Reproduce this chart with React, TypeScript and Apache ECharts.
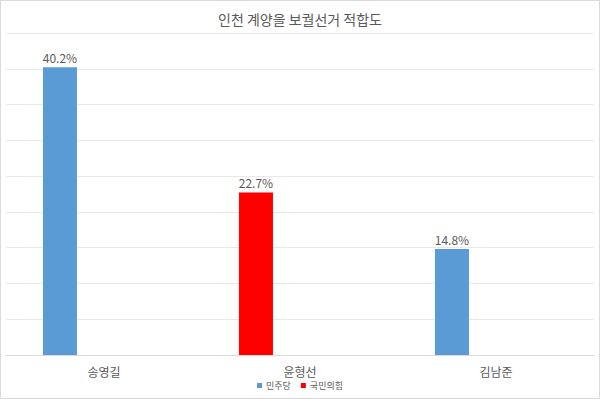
import React, { useEffect, useRef } from "react";
import * as echarts from "echarts";

const titleText = "인천 계양을 보궐선거 적합도";
const categories = ["송영길", "윤형선", "김남준"];
const seriesNames = ["민주당", "국민의힘"];
const democraticValues: (number | string)[] = [40.2, "-", 14.8];
const ppValues: (number | string)[] = ["-", 22.7, "-"];
const yMin = 0;
const yMax = 45;
const yInterval = 5;

const FONT = "'Noto Sans CJK KR', 'Noto Sans', sans-serif";
const TEXT = "#595959";

export default function App() {
  const ref = useRef<HTMLDivElement>(null);
  useEffect(() => {
    if (!ref.current) return;
    const chart = echarts.init(ref.current, undefined, { renderer: "svg" });
    const labelCfg = {
      show: true,
      position: "top" as const,
      distance: 4,
      formatter: "{c}%",
      fontSize: 12,
      color: TEXT,
      fontFamily: FONT,
    };
    chart.setOption({
      animation: false,
      backgroundColor: "#ffffff",
      title: {
        text: titleText,
        left: "center",
        top: 7,
        textStyle: { fontSize: 14, fontWeight: "normal", color: TEXT, fontFamily: FONT },
      },
      legend: {
        data: seriesNames,
        top: 381,
        left: "center",
        padding: 0,
        icon: "rect",
        itemWidth: 5,
        itemHeight: 5,
        itemGap: 10,
        textStyle: { fontSize: 9, color: TEXT, fontFamily: FONT, padding: [0, 0, 0, -1] },
      },
      grid: { left: 6, right: 6, top: 33, bottom: 44, containLabel: false },
      xAxis: {
        type: "category",
        data: categories,
        axisLine: { lineStyle: { color: "#d9d9d9" } },
        axisTick: { show: false },
        axisLabel: { fontSize: 12, color: TEXT, fontFamily: FONT, margin: 10 },
      },
      yAxis: {
        type: "value",
        min: yMin,
        max: yMax,
        interval: yInterval,
        axisLabel: { show: false },
        axisLine: { show: false },
        axisTick: { show: false },
        splitLine: { lineStyle: { color: "#e8e8e8" } },
      },
      series: [
        {
          name: seriesNames[0],
          type: "bar",
          stack: "a",
          data: democraticValues,
          barWidth: 34,
          barGap: "159%",
          itemStyle: { color: "#5b9bd5" },
          label: labelCfg,
        },
        {
          name: seriesNames[1],
          type: "bar",
          stack: "a",
          data: ppValues,
          barWidth: 34,
          barGap: "159%",
          itemStyle: { color: "#ff0000" },
          label: labelCfg,
        },
        {
          name: "pad",
          type: "bar",
          data: ["-", "-", "-"],
          barWidth: 34,
          barGap: "159%",
          silent: true,
        },
      ],
      graphic: [
        {
          type: "rect",
          shape: { x: 0.5, y: 0.5, width: 599, height: 398 },
          style: { fill: "none", stroke: "#d9d9d9", lineWidth: 1 },
          silent: true,
        },
      ],
    });
    return () => chart.dispose();
  }, []);
  return (
    <div
      ref={ref}
      style={{ position: "fixed", left: 0, top: 0, width: 600, height: 399 }}
    />
  );
}
